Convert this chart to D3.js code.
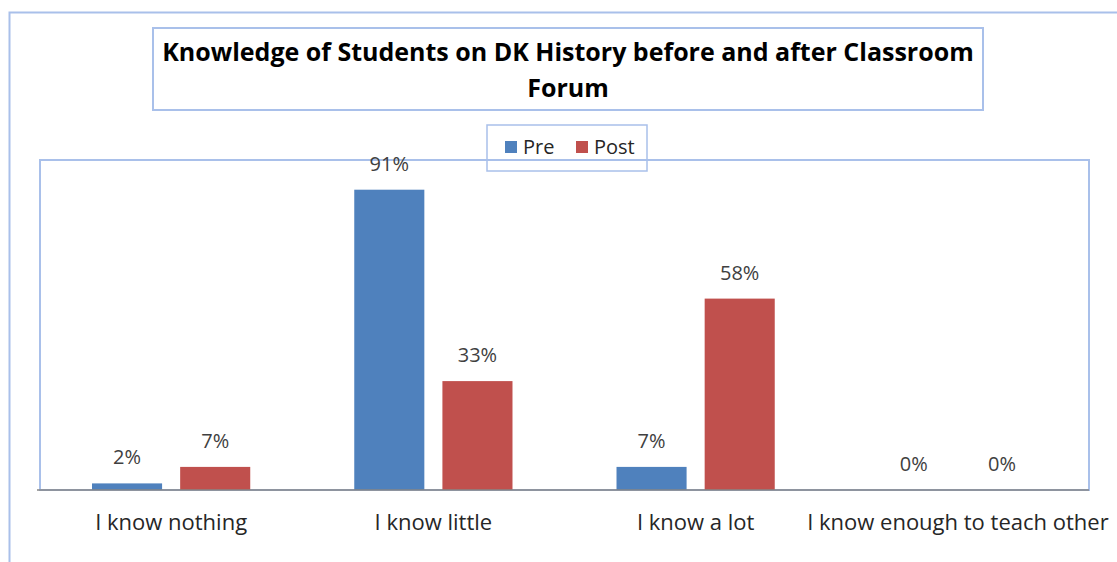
<!DOCTYPE html>
<html><head><meta charset="utf-8">
<script src="https://cdn.jsdelivr.net/npm/d3@7"></script>
<style>body{margin:0;background:#fff;} svg{display:block;}</style>
</head><body>
<svg id="chart" width="1117" height="562"></svg>
<script>
const categories = ["I know nothing", "I know little", "I know a lot", "I know enough to teach other"];
const seriesNames = ["Pre", "Post"];
const preValues = [2, 91, 7, 0];
const postValues = [7, 33, 58, 0];
const colors = ["#4F81BD", "#C0504D"];
const titleLines = ["Knowledge of Students on DK History before and after Classroom", "Forum"];

const svg = d3.select("#chart");
const font = "'Open Sans', Lato, sans-serif";
const borderColor = "#A9C0EA";

// outer chart border
svg.append("rect").attr("x", 9.5).attr("y", 12.5).attr("width", 1130).attr("height", 580)
  .attr("fill", "none").attr("stroke", borderColor).attr("stroke-width", 2);

const plot = {left: 40, right: 1089, top: 160, bottom: 490};

// plot area border
svg.append("rect").attr("x", plot.left).attr("y", plot.top)
  .attr("width", plot.right - plot.left).attr("height", plot.bottom - plot.top)
  .attr("fill", "none").attr("stroke", borderColor).attr("stroke-width", 2);

const x0 = d3.scaleBand().domain(categories).range([plot.left, plot.right]).paddingInner(0).paddingOuter(0);
const x1 = d3.scaleBand().domain(seriesNames).range([0, x0.bandwidth()]).paddingInner(0.205).paddingOuter(0.59);
const y = d3.scaleLinear().domain([0, 100]).range([plot.bottom, plot.top]);

const data = categories.map((c, i) => ({cat: c, vals: [{s: "Pre", v: preValues[i]}, {s: "Post", v: postValues[i]}]}));

const groups = svg.append("g").selectAll("g").data(data).join("g")
  .attr("transform", d => `translate(${x0(d.cat)},0)`);

groups.selectAll("rect").data(d => d.vals).join("rect")
  .attr("x", d => x1(d.s)).attr("width", x1.bandwidth())
  .attr("y", d => y(d.v)).attr("height", d => y(0) - y(d.v))
  .attr("fill", (d, i) => colors[i]);

groups.selectAll("text").data(d => d.vals).join("text")
  .attr("x", d => x1(d.s) + x1.bandwidth() / 2)
  .attr("y", d => y(d.v) - 19)
  .attr("text-anchor", "middle")
  .attr("font-family", font).attr("font-size", 20).attr("fill", "#404040")
  .text(d => d.v + "%");

// x axis
const xAxis = svg.append("g").attr("transform", `translate(0,${plot.bottom})`)
  .call(d3.axisBottom(x0).tickSize(0).tickPadding(24));
xAxis.select(".domain").attr("stroke", "#868686").attr("stroke-width", 1.5)
  .attr("d", `M${plot.left - 3},0H${plot.right}`);
xAxis.selectAll("text").attr("font-family", font).attr("font-size", 22).attr("fill", "#262626");

// title box
svg.append("rect").attr("x", 153).attr("y", 28).attr("width", 830).attr("height", 82)
  .attr("fill", "#fff").attr("stroke", borderColor).attr("stroke-width", 2);
svg.append("g").selectAll("text").data(titleLines).join("text")
  .attr("x", 568).attr("y", (d, i) => 61 + i * 36)
  .attr("text-anchor", "middle")
  .attr("font-family", font).attr("font-weight", "bold").attr("font-size", 25).attr("fill", "#000")
  .text(d => d);

// legend
const legend = svg.append("g");
legend.append("rect").attr("x", 487).attr("y", 125).attr("width", 160).attr("height", 46)
  .attr("fill", "none").attr("stroke", borderColor).attr("stroke-width", 1.5);
const legendX = [505, 576];
const li = legend.selectAll("g").data(seriesNames).join("g")
  .attr("transform", (d, i) => `translate(${legendX[i]},141)`);
li.append("rect").attr("width", 12).attr("height", 12).attr("fill", (d, i) => colors[i]);
li.append("text").attr("x", 18).attr("y", 13)
  .attr("font-family", font).attr("font-size", 20).attr("fill", "#262626").text(d => d);
</script>
</body></html>
